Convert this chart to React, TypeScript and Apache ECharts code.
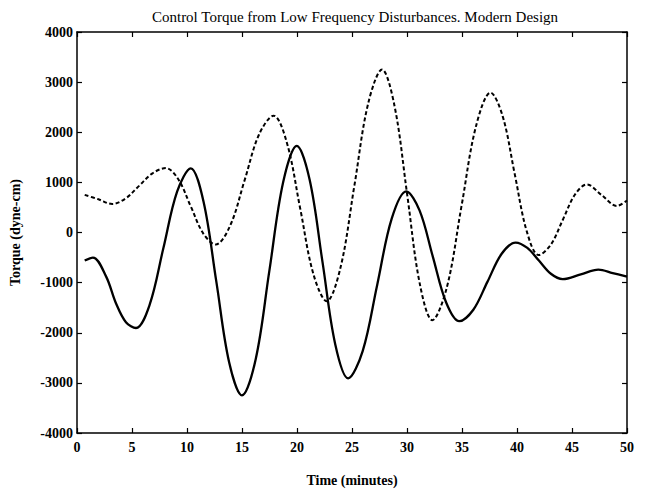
import React, { useEffect, useRef } from "react";
import * as echarts from "echarts";

const title = "Control Torque from Low Frequency Disturbances. Modern Design";
const xName = "Time (minutes)";
const yName = "Torque (dyne-cm)";

// Solid curve (time in minutes, torque in dyne-cm)
const solidTime = [
  0.7, 1.45, 2.65, 3.55, 4.45, 5.36, 6.6, 7.85, 9.1, 10.34, 11.5, 12.67, 13.83, 15.0,
  16.25, 17.49, 18.74, 19.98, 21.15, 22.32, 23.48, 24.65, 25.97, 27.29, 28.61, 29.93,
  31.14, 32.34, 33.55, 34.75, 36.03, 37.31, 38.59, 39.87, 40.94, 42.01, 43.08, 44.15,
  45.8, 47.4, 48.7, 50.0,
];
const solidTorque = [
  -560, -500, -880, -1415, -1790, -1905, -1444, -315, 814, 1280, 619, -985, -2589, -3250,
  -2523, -760, 1003, 1730, 1053, -590, -2233, -2910, -2365, -1045, 275, 820,
  442, -475, -1392, -1770, -1541, -985, -429, -200, -307, -565, -823, -930,
  -835, -740, -810, -880,
];

// Dashed curve
const dashedTime = [
  0.7, 1.95, 3.2, 4.42, 5.64, 6.86, 8.08, 9.21, 10.34, 11.47, 12.6, 13.92, 15.24, 16.55,
  17.87, 19.08, 20.29, 21.49, 22.7, 23.96, 25.22, 26.47, 27.73, 28.87, 30.02, 31.16,
  32.3, 33.63, 34.95, 36.28, 37.6, 38.7, 39.79, 40.89, 41.98, 43.07, 44.17, 45.26,
  46.35, 47.7, 49.06, 50.0,
];
const dashedTorque = [
  750, 662, 570, 679, 930, 1181, 1285, 1062, 522, -17, -240, 135, 1045, 1955,
  2330, 1790, 480, -830, -1370, -695, 940, 2575, 3250, 2520, 750, -1020,
  -1750, -1087, 520, 2127, 2790, 2317, 1170, 23, -450, -244, 255, 754,
  960, 745, 530, 640,
];

const FONT = "Liberation Serif";

export default function App() {
  const ref = useRef<HTMLDivElement>(null);
  useEffect(() => {
    if (!ref.current) return;
    const chart = echarts.init(ref.current, undefined, { renderer: "svg" });
    const axisLine = { show: true, onZero: false, lineStyle: { color: "#000", width: 1.5 } };
    const tick = { show: true, inside: true, length: 5, lineStyle: { color: "#000", width: 1.2 } };
    const labelStyle = { color: "#000", fontFamily: FONT, fontSize: 14, fontWeight: "bold" };
    chart.setOption({
      animation: false,
      backgroundColor: "#fff",
      title: {
        text: title,
        left: 350,
        textAlign: "center",
        top: 4,
        textStyle: { fontFamily: FONT, fontSize: 15, fontWeight: "normal", color: "#000" },
      },
      grid: { left: 74, right: 19, top: 32, bottom: 61 },
      xAxis: [
        {
          type: "value",
          min: 0,
          max: 50,
          interval: 5,
          position: "bottom",
          axisLine,
          axisTick: tick,
          splitLine: { show: false },
          axisLabel: { ...labelStyle, margin: 7, formatter: (v: number) => String(v) },
          name: xName,
          nameLocation: "middle",
          nameGap: 40,
          nameTextStyle: labelStyle,
        },
        {
          type: "value",
          min: 0,
          max: 50,
          interval: 5,
          position: "top",
          axisLine,
          axisTick: tick,
          splitLine: { show: false },
          axisLabel: { show: false },
        },
      ],
      yAxis: [
        {
          type: "value",
          min: -4000,
          max: 4000,
          interval: 1000,
          position: "left",
          axisLine,
          axisTick: tick,
          splitLine: { show: false },
          axisLabel: { ...labelStyle, margin: 4, formatter: (v: number) => String(v) },
          name: yName,
          nameLocation: "middle",
          nameGap: 55,
          nameTextStyle: labelStyle,
        },
        {
          type: "value",
          min: -4000,
          max: 4000,
          interval: 1000,
          position: "right",
          axisLine,
          axisTick: tick,
          splitLine: { show: false },
          axisLabel: { show: false },
        },
      ],
      series: [
        {
          type: "line",
          name: "solid",
          data: solidTime.map((t, i) => [t, solidTorque[i]]),
          smooth: 0.35,
          showSymbol: false,
          lineStyle: { color: "#000", width: 2.3, type: "solid" },
        },
        {
          type: "line",
          name: "dashed",
          data: dashedTime.map((t, i) => [t, dashedTorque[i]]),
          smooth: 0.35,
          showSymbol: false,
          lineStyle: { color: "#000", width: 2, type: [4, 2.5] },
        },
      ],
    });
    return () => chart.dispose();
  }, []);
  return <div ref={ref} style={{ width: 646, height: 494, position: "absolute", left: 0, top: 0 }} />;
}
